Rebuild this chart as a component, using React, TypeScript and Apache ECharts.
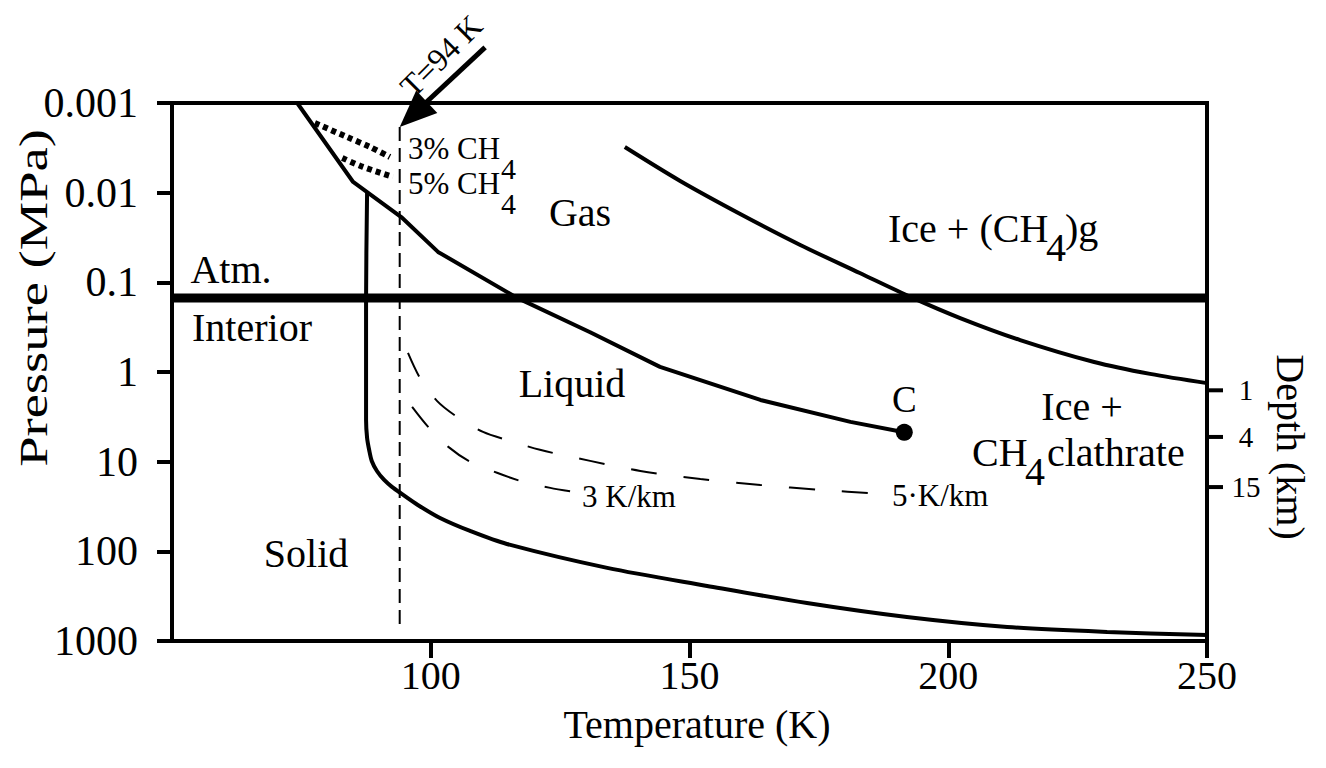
import React, { useEffect, useRef } from 'react';
import * as echarts from 'echarts';

const FONT = '"Liberation Serif", "Times New Roman", serif';

// Phase boundaries of methane / water ice, temperature (K) vs pressure (MPa)
const vaporT = [74.2, 85.0, 94.3, 101.4, 116.7, 130.8, 144.3, 163.7, 181.1, 191.5];
const vaporP = [0.001, 0.0076, 0.0187, 0.0458, 0.149, 0.36, 0.877, 2.05, 3.6, 4.7];

const meltT = [87.7, 87.5, 87.5, 87.7, 88.1, 88.6, 89.6, 91.0, 92.5, 94.4, 97.5, 101.8, 107.6, 114.7, 134.1, 153.4, 172.7, 192.0, 211.4, 230.7, 250];
const meltP = [0.0098, 0.157, 3.43, 5.44, 7.41, 9.82, 12.7, 16.0, 19.1, 22.9, 30.4, 42.5, 59.3, 82.8, 153, 243, 377, 540, 698, 793, 857];

const clathrateT = [137.5, 148.2, 159.8, 171.4, 182.9, 192.8, 202.3, 213.9, 228.2, 239.0, 250];
const clathrateP = [0.0031, 0.00741, 0.0173, 0.0383, 0.0787, 0.146, 0.25, 0.44, 0.773, 1.05, 1.33];

// Geotherms below the surface
const geo5T = [95.6, 97.9, 101.2, 105.1, 110.1, 115.3, 121.1, 130.8, 140.5, 152.1, 163.7, 175.3, 187.4];
const geo5P = [0.612, 1.16, 2.1, 3.17, 4.66, 5.86, 7.38, 9.8, 12.7, 15.6, 18.2, 20.6, 22.9];
const geo3T = [96.4, 99.5, 103.4, 107.6, 112.8, 117.9, 123.1, 127.5];
const geo3P = [2.45, 4.09, 6.84, 10.0, 13.3, 16.8, 19.6, 21.7];

// Condensation curves for methane mole fractions in the atmosphere
const ch3T = [77.6, 83.8, 88.3, 92.1];
const ch3P = [0.00167, 0.00239, 0.0031, 0.004];
const ch5T = [82.9, 86.9, 92.7];
const ch5P = [0.0041, 0.00516, 0.00668];

const surfaceP = 0.15;
const surfaceT = [50, 250];
const isothermT = 94;
const isothermP = [0.00185, 660];
const criticalPoint = [191.5, 4.7];
const arrowFrom = [110.5, 0.00024];
const arrowTo = [94, 0.00185];

const xTicks = [100, 150, 200, 250];
const depthLabels = ['1', '4', '15'];
const depthP = [1.6, 5.3, 19.2];

const pairs = (t: number[], p: number[]) => t.map((v, i) => [v, p[i]]);

const curve = (data: number[][], width: number, type: any = 'solid', smooth: number | boolean = false) => ({
  type: 'line',
  data,
  showSymbol: false,
  symbol: 'none',
  silent: true,
  smooth,
  lineStyle: { color: '#000', width, type, cap: 'butt' },
  z: 3,
});

const txt = (text: string, x: number, y: number, size: number, align = 'center', rotation = 0, scaleX = 1) => ({
  type: 'text',
  x,
  y,
  rotation,
  scaleX,
  silent: true,
  style: {
    text,
    fill: '#000',
    fontFamily: FONT,
    fontSize: size,
    align,
    textAlign: align,
    verticalAlign: 'middle',
    textVerticalAlign: 'middle',
  },
});

const logLabel = (v: number) => {
  const e = Math.round(Math.log10(v));
  return e < 0 ? Math.pow(10, e).toFixed(-e) : String(Math.round(Math.pow(10, e)));
};

export default function App() {
  const ref = useRef<HTMLDivElement>(null);

  useEffect(() => {
    const chart = echarts.init(ref.current!, null, { renderer: 'svg' });
    const option: any = {
      animation: false,
      backgroundColor: '#fff',
      grid: {
        left: 172,
        top: 103,
        width: 1035,
        height: 538,
        show: true,
        borderColor: '#000',
        borderWidth: 4,
        backgroundColor: 'transparent',
      },
      xAxis: {
        type: 'value',
        min: 50,
        max: 250,
        interval: 50,
        splitLine: { show: false },
        axisLine: { onZero: false, lineStyle: { color: '#000', width: 4 } },
        axisTick: { customValues: xTicks, length: 17, lineStyle: { color: '#000', width: 4 } },
        axisLabel: { customValues: xTicks, color: '#000', fontFamily: FONT, fontSize: 40, margin: 14 },
      },
      yAxis: {
        type: 'log',
        logBase: 10,
        min: 0.001,
        max: 1000,
        inverse: true,
        splitLine: { show: false },
        minorTick: { show: false },
        axisLine: { show: true, onZero: false, lineStyle: { color: '#000', width: 4 } },
        axisTick: { show: true, length: 15, lineStyle: { color: '#000', width: 4 } },
        axisLabel: { color: '#000', fontFamily: FONT, fontSize: 42, margin: 34, formatter: logLabel },
      },
      graphic: [
        txt('Temperature (K)', 697, 724, 40),
        txt('Pressure (MPa)', 33, 298, 41, 'center', Math.PI / 2, 1.33),
        txt('Depth (km)', 1290, 447, 40, 'center', -Math.PI / 2),
        txt('Gas', 580, 212, 40),
        txt('Liquid', 572, 383, 40),
        txt('Solid', 306, 553, 40),
        txt('Atm.', 231, 269, 40),
        txt('Interior', 252, 327, 40),
        txt('Ice + (CH', 888, 228, 40, 'left'),
        txt('4', 1046, 247, 40, 'left'),
        txt(')g', 1065, 228, 40, 'left'),
        txt('Ice +', 1082, 406, 40),
        txt('CH', 972, 452, 40, 'left'),
        txt('4', 1025, 471, 40, 'left'),
        txt('clathrate', 1047, 452, 40, 'left'),
        txt('3% CH', 408, 148, 31, 'left'),
        txt('4', 501, 168, 30, 'left'),
        txt('5% CH', 408, 183, 31, 'left'),
        txt('4', 501, 203, 30, 'left'),
        txt('3 K/km', 582, 496, 31, 'left'),
        txt('5\u00b7K/km', 892, 495, 31, 'left'),
        txt('T=94 K', 441, 56, 32, 'center', Math.PI / 4),
      ],
      series: [
        curve(pairs(surfaceT, [surfaceP, surfaceP]), 9),
        curve(pairs(vaporT, vaporP), 4),
        curve(pairs(meltT, meltP), 4, 'solid', 0.3),
        curve(pairs(clathrateT, clathrateP), 4, 'solid', 0.3),
        curve(pairs(geo5T, geo5P), 2, [26, 27], 0.3),
        curve(pairs(geo3T, geo3P), 2, [26, 27], 0.3),
        curve(pairs(ch3T, ch3P), 6, [5, 4], 0.3),
        curve(pairs(ch5T, ch5P), 6, [5, 4], 0.3),
        curve(isothermP.map((p) => [isothermT, p]), 2, [14, 7]),
        {
          type: 'scatter',
          data: [criticalPoint],
          symbol: 'circle',
          symbolSize: 17,
          silent: true,
          itemStyle: { color: '#000', opacity: 1 },
          label: {
            show: true,
            position: 'top',
            distance: 6,
            formatter: 'C',
            color: '#000',
            fontFamily: FONT,
            fontSize: 37,
          },
          z: 4,
        },
        {
          type: 'custom',
          silent: true,
          clip: false,
          data: [[arrowFrom[0], arrowFrom[1], arrowTo[0], arrowTo[1]]],
          renderItem: (_params: any, api: any) => {
            const a = api.coord([api.value(0), api.value(1)]);
            const b = api.coord([api.value(2), api.value(3)]);
            const dx = b[0] - a[0];
            const dy = b[1] - a[1];
            const len = Math.hypot(dx, dy);
            const ux = dx / len;
            const uy = dy / len;
            const headLen = 37;
            const headW = 31;
            const bx = b[0] - ux * headLen;
            const by = b[1] - uy * headLen;
            const nx = -uy;
            const ny = ux;
            return {
              type: 'group',
              children: [
                {
                  type: 'line',
                  shape: { x1: a[0], y1: a[1], x2: bx + ux * 4, y2: by + uy * 4 },
                  style: { stroke: '#000', lineWidth: 5 },
                },
                {
                  type: 'polygon',
                  shape: {
                    points: [
                      [b[0], b[1]],
                      [bx + (nx * headW) / 2, by + (ny * headW) / 2],
                      [bx - (nx * headW) / 2, by - (ny * headW) / 2],
                    ],
                  },
                  style: { fill: '#000' },
                },
              ],
            };
          },
          z: 5,
        },
        {
          type: 'custom',
          silent: true,
          clip: false,
          data: depthP.map((p, i) => [250, p, i]),
          renderItem: (_params: any, api: any) => {
            const pt = api.coord([api.value(0), api.value(1)]);
            const label = depthLabels[api.value(2)];
            return {
              type: 'group',
              children: [
                {
                  type: 'line',
                  shape: { x1: pt[0], y1: pt[1], x2: pt[0] + 16, y2: pt[1] },
                  style: { stroke: '#000', lineWidth: 4 },
                },
                {
                  type: 'text',
                  x: pt[0] + 39,
                  y: pt[1],
                  style: {
                    text: label,
                    fill: '#000',
                    fontFamily: FONT,
                    fontSize: 29,
                    align: 'center',
                    verticalAlign: 'middle',
                  },
                },
              ],
            };
          },
          z: 5,
        },
      ],
    };
    chart.setOption(option);
    return () => chart.dispose();
  }, []);

  return (
    <div
      ref={ref}
      style={{ position: 'fixed', left: 0, top: 0, width: 1326, height: 768, background: '#fff' }}
    />
  );
}
